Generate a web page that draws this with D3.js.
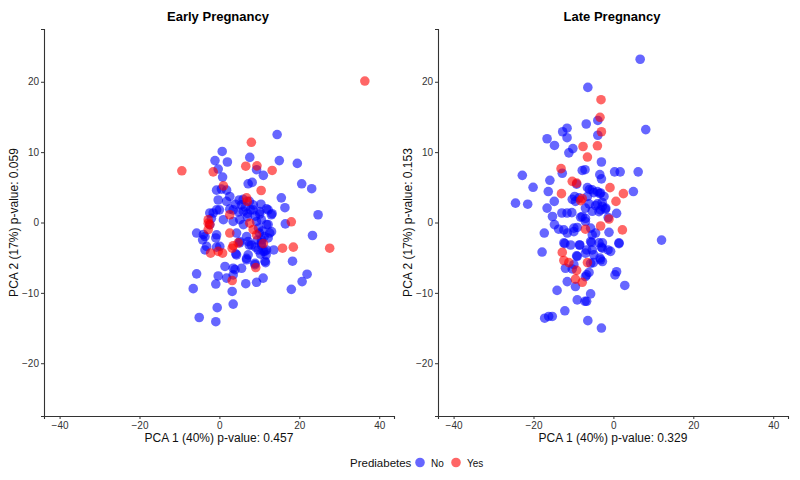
<!DOCTYPE html>
<html>
<head>
<meta charset="utf-8">
<script src="https://cdn.jsdelivr.net/npm/d3@7"></script>
<style>
html,body{margin:0;padding:0;background:#fff;}
svg{display:block;font-family:"Liberation Sans",Arial,Helvetica,sans-serif;}
</style>
</head>
<body>
<svg id="chart" width="800" height="480"></svg>
<script>
// ---- Data ----
const panelTitles = ["Early Pregnancy", "Late Pregnancy"];
const xLabels = ["PCA 1 (40%) p-value: 0.457", "PCA 1 (40%) p-value: 0.329"];
const yLabels = ["PCA 2 (17%) p-value: 0.059", "PCA 2 (17%) p-value: 0.153"];
const groups = ["No", "Yes"];
const legendTitle = "Prediabetes";
const xTicks = [-40, -20, 0, 20, 40];
const yTicks = [-20, -10, 0, 10, 20];

const earlyNo = [
[14.45,12.5],[0.7,10.1],[7.6,9.25],[-1.1,8.8],[2.0,8.6],[15.0,8.8],[19.5,8.4],[-0.3,7.6],[9.3,7.5],[11.0,6.7],
[0.8,6.45],[7.2,5.5],[8.2,5.7],[20.6,5.5],[23.1,4.8],[-0.7,4.6],[0.5,4.75],[1.8,4.6],[2.6,3.7],[-0.3,3.2],
[1.8,3.0],[4.95,3.2],[5.95,3.3],[15.5,3.5],[10.4,2.6],[16.4,2.1],[0,1.8],[2.6,1.9],[7.8,1.8],[11.8,1.95],
[13.2,1.25],[24.7,1.1],[10.1,1.2],[16.5,-0.2],[3.45,1.8],[6,1.6],[8.45,1.8],[10.1,1.55],[12.2,1.8],[-2.4,1.35],
[-2,0.6],[-2.4,-0.3],[1,0.4],[3.45,0.15],[5.1,0.4],[6,-0.3],[9.3,0.15],[10.5,0.4],[11.8,-0.3],[12.6,-1.5],
[-5.7,-1.5],[-3.6,-2],[-0.7,-1.75],[4.3,-1.5],[6.8,-2],[10.5,-2.45],[13.05,-1.3],[12.2,-2.2],[5.1,-2.7],[-3.2,-3.4],
[0.1,-3.4],[8,-3.2],[10.5,-3.2],[-4.2,-2.46],[-3.6,-3.9],[-0.7,-3.5],[4.1,-4.45],[7.45,-3.2],[9.7,-3.9],[11,-4.1],
[11.8,-3.9],[13.6,-3.9],[18.3,-5.5],[11.55,-5.7],[6.8,-5.1],[7.2,-4.6],[5.55,-6.5],[3.9,-6.7],[1.4,-6.25],[8.9,-6.0],
[-5.7,-7.3],[-0.3,-7.6],[1.8,-7.9],[3.45,-7.45],[10.95,-7.9],[9.3,-8.5],[6.6,-8.7],[-0.9,-8.75],[-6.55,-9.4],[3.2,-9.8],
[18,-9.5],[20.7,-8.4],[21.95,-7.35],[-0.55,-12.1],[3.45,-11.6],[-5.05,-13.5],[-0.9,-14.1],[23.3,-1.85],[13,1.1],[12.2,-0.3],
[-0.9,-2.2],[-1.55,1.35],[-0.7,1.8],[8.9,-5.8],[11.4,-4.1],[4.3,-4.6],[5.5,2.5],[6.5,2.2],[7,1.3],[4.8,1.5],
[9.8,-0.8],[10.8,-1.2],[11.2,-2.0],[9.5,-2.5],[10,-1.5],[9,-3.5],[10.3,-4.5],[11.7,-4.6],[10.5,-2.9],[7.5,3.0],
[8.5,2.5],[9,0.9],[7,0.8],[4,2.6],[-4.0,-1.7],[5.1,-2.9],[7.2,-2.7],[6.8,-5.3],[11.4,-5.5],[3.45,-6.5]
];
const earlyYes = [
[36.4,20.1],[8.0,11.4],[-9.4,7.35],[-1.55,7.2],[6.6,8.0],[9.4,8.05],[13.2,7.4],[1.0,5.2],[10.45,4.55],[6.8,3.5],
[7.0,3.0],[18.0,0.1],[-2.8,0.4],[-2.4,-0.3],[2.6,1.1],[7.6,-0.1],[8.45,-1.0],[-2.8,-1.0],[2.6,-1.5],[9.3,-1.75],
[3.45,-3.3],[-2.2,-4.35],[-0.3,-4.1],[0.8,-4.35],[3.2,-3.65],[4.7,-2.9],[15.8,-3.65],[18.5,-3.5],[27.6,-3.65],[9.1,-6.4],
[3.2,-8.25],[11,-3.0],[-2.8,-0.1]
];
const lateNo = [
[6.7,23.2],[-6.4,19.2],[-3.9,14.5],[-3.9,12.4],[8.1,13.2],[-6.8,14.0],[-11.6,13.4],[-12.7,12.9],[-11.6,12.05],[-16.6,11.9],
[-14.75,10.95],[-10.15,10.5],[-11.15,9.9],[-3.0,8.6],[-12.8,7.0],[-7.8,7.4],[-7.1,7.5],[0.3,7.2],[1.7,7.2],[6.2,7.2],
[-3.4,6.8],[-3.0,6.2],[-22.8,6.7],[-15.9,6.0],[-9.2,5.45],[-20.1,5.0],[-6.5,4.95],[-6.0,4.7],[-16.3,4.4],[5.0,4.4],
[-4.9,4.25],[-3.4,4.1],[-9.7,3.7],[-10.3,3.3],[-6.5,3.7],[-24.5,2.75],[-21.45,2.6],[-14.8,3.0],[-6.1,2.65],[-4.0,2.65],
[-2.8,2.85],[-16.6,2.05],[-5.3,1.6],[-3.2,1.8],[-2.0,1.9],[0.8,1.3],[-12.9,1.35],[-11.6,1.35],[-10.4,1.4],[-15.25,0.85],
[-1.3,0.7],[-8.2,0.75],[-7.0,0.6],[-14.75,-0.3],[-13.7,-0.95],[-12.4,-1.05],[-9.9,-0.8],[-9.05,-0.7],[-5.7,-0.8],[-1.1,-1.4],
[-17.3,-1.5],[12.05,-2.5],[-7.8,0.85],[-7.0,0.15],[-3.6,1.55],[-11.55,-1.5],[-9.9,-1.3],[-5.3,-1.75],[-4.45,-1.5],[1.4,-2.9],
[-12.4,-2.9],[-10.7,-3.2],[-8.4,-3.2],[-5.7,-2.7],[-3.6,-2.9],[-2.75,-3.65],[-1.35,-3.9],[-0.7,-4.1],[-17.85,-4.2],[-9.05,-4.8],
[-7,-4.35],[-5.3,-3.9],[-4.9,-4.6],[-3.2,-5.3],[-2.75,-5.55],[-5.7,-5.8],[-5.0,-5.7],[-12.0,-6.5],[-10.3,-6.6],[-9.9,-6.0],
[-6.1,-7.1],[-7.0,-7.7],[0.8,-7.0],[0.4,-7.45],[-11.55,-8.4],[-9.5,-9.1],[2.85,-8.95],[-14.1,-9.65],[-5.7,-10.15],[-9.05,-11.0],
[-7.1,-11.2],[-6.7,-11.2],[-12.15,-12.55],[-17.2,-13.6],[-16.2,-13.35],[-15.3,-13.35],[-6.4,-13.95],[-3.0,-15.0],[-6.7,-3.9],[-2.75,-2.9],
[-3.0,-3.5],[-8.5,-3.2],[-12.15,-3.0],[1.4,-3.0],[-9.2,-4.75],[-3.35,-5.05],[-6.7,-7.45],[-5.5,-2.85],[-4.45,2.4],[-2.35,3.7],
[-8.6,3.5],[-9.5,3.0],[-4.0,4.4],[-5.3,4.65],[-2.75,2.3],[-1.9,2.05],[-7,2.05],[-3.2,4.2]
];
const lateYes = [
[-3.1,17.45],[-3.35,14.95],[-3.0,12.9],[-7.6,10.8],[-4.0,10.9],[-6.5,9.3],[-13.1,7.65],[-10.3,5.85],[-9.2,5.6],[-0.85,4.95],
[-13,4.1],[2.5,4.1],[-7.8,3.4],[-8.2,3.1],[0.65,3.0],[-1.1,0.5],[-3.2,-0.5],[2.25,-1.05],[-7.0,-0.95],[-12.8,-4.25],
[-12.4,-5.4],[-11.15,-5.7],[-6.5,-5.7],[-9.2,-6.8],[-9.5,-8.05],[-7.8,-8.5]
];

const panelsData = [
  {no: earlyNo, yes: earlyYes},
  {no: lateNo, yes: lateYes}
];

// ---- Layout ----
const svg = d3.select("#chart");
const colors = {No: "#0000ff", Yes: "#ff0000"};
const panels = [
  {left: 44, right: 394},
  {left: 438, right: 788}
];
const plotTop = 29, plotBottom = 416;
const xDomain = [-43.9, 43.7];
const yDomain = [-27.5, 27.5];

panels.forEach((p, i) => {
  const x = d3.scaleLinear().domain(xDomain).range([p.left, p.right]);
  const y = d3.scaleLinear().domain(yDomain).range([plotBottom, plotTop]);
  const g = svg.append("g");

  const pts = [];
  panelsData[i].no.forEach(d => pts.push({x: d[0], y: d[1], g: "No"}));
  panelsData[i].yes.forEach(d => pts.push({x: d[0], y: d[1], g: "Yes"}));
  g.append("g").selectAll("circle").data(pts).join("circle")
    .attr("cx", d => x(d.x)).attr("cy", d => y(d.y)).attr("r", 4.8)
    .attr("fill", d => colors[d.g]).attr("fill-opacity", 0.6);

  const xAxis = d3.axisBottom(x).tickValues(xTicks).tickSize(3).tickPadding(3);
  const yAxis = d3.axisLeft(y).tickValues(yTicks).tickSize(3).tickPadding(2);
  const gx = g.append("g").attr("transform", `translate(0,${plotBottom})`).call(xAxis);
  const gy = g.append("g").attr("transform", `translate(${p.left},0)`).call(yAxis);
  [gx, gy].forEach(a => {
    a.select(".domain").attr("stroke", "#333").attr("stroke-width", 1.1);
    a.selectAll(".tick line").attr("stroke", "#333");
    a.selectAll(".tick text").attr("fill", "#333").style("font-size", "10px");
  });

  g.append("text").attr("x", (p.left + p.right) / 2 - 1).attr("y", 21)
    .attr("text-anchor", "middle").style("font-size", "13px").style("font-weight", "bold")
    .text(panelTitles[i]);
  g.append("text").attr("x", (p.left + p.right) / 2).attr("y", 442)
    .attr("text-anchor", "middle").style("font-size", "12px").attr("fill", "#111")
    .text(xLabels[i]);
  g.append("text").attr("transform", `translate(${p.left - 26},${(plotTop + plotBottom) / 2}) rotate(-90)`)
    .attr("text-anchor", "middle").style("font-size", "12px").attr("fill", "#111")
    .text(yLabels[i]);
});

// legend
const lg = svg.append("g");
lg.append("text").attr("x", 350).attr("y", 467).style("font-size", "11.5px").attr("fill", "#111").text(legendTitle);
const legendX = [420, 456];
groups.forEach((k, j) => {
  lg.append("circle").attr("cx", legendX[j]).attr("cy", 462.5).attr("r", 4.8)
    .attr("fill", colors[k]).attr("fill-opacity", 0.6);
  lg.append("text").attr("x", legendX[j] + 11).attr("y", 466.5).style("font-size", "10px")
    .attr("fill", "#111").text(k);
});
</script>
</body>
</html>
